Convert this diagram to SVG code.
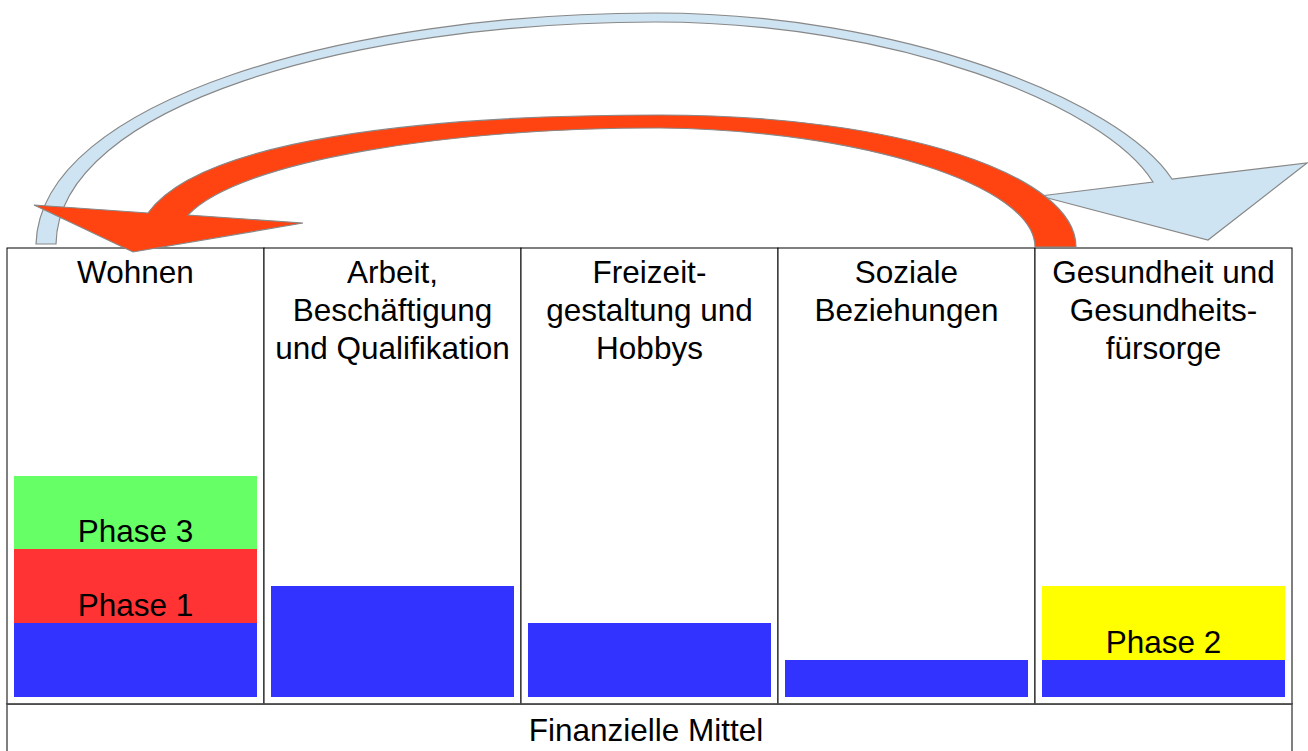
<svg xmlns="http://www.w3.org/2000/svg" width="1308" height="751" viewBox="0 0 1308 751">
<style>
.t{font-family:"Liberation Sans",Arial,sans-serif;font-size:31.5px;fill:#000;text-anchor:middle}
.cell{fill:#fff;stroke:#000;stroke-width:1}
.blue{fill:#3333ff}
.arrowB{fill:#cfe4f3;stroke:#888;stroke-width:1.2;stroke-linejoin:miter}
.arrowR{fill:#ff4411;stroke:#888;stroke-width:1.2;stroke-linejoin:miter}
</style>
<rect width="1308" height="751" fill="#fff"/>
<g id="table">
<rect x="7" y="704" width="1285" height="60" fill="#fff" stroke="#555" stroke-width="1.5"/>
</g>
<g id="wohnen">
<rect class="cell" x="7" y="248" width="257" height="456"/>
<rect x="14" y="476" width="243" height="73" fill="#66ff66"/>
<rect x="14" y="549" width="243" height="74" fill="#ff3333"/>
<rect class="blue" x="14" y="623" width="243" height="74"/>
<text class="t" x="135.5" y="283">Wohnen</text>
<text class="t" x="135.5" y="542">Phase 3</text>
<text class="t" x="135.5" y="616">Phase 1</text>
</g>
<g id="arbeit">
<rect class="cell" x="264" y="248" width="257" height="456"/>
<rect class="blue" x="271" y="586" width="243" height="111"/>
<text class="t" x="392.5" y="283">Arbeit,</text>
<text class="t" x="392.5" y="321">Beschäftigung</text>
<text class="t" x="392.5" y="359">und Qualifikation</text>
</g>
<g id="freizeit">
<rect class="cell" x="521" y="248" width="257" height="456"/>
<rect class="blue" x="528" y="623" width="243" height="74"/>
<text class="t" x="649.5" y="283">Freizeit-</text>
<text class="t" x="649.5" y="321">gestaltung und</text>
<text class="t" x="649.5" y="359">Hobbys</text>
</g>
<g id="soziale">
<rect class="cell" x="778" y="248" width="257" height="456"/>
<rect class="blue" x="785" y="660" width="243" height="37"/>
<text class="t" x="906.5" y="283">Soziale</text>
<text class="t" x="906.5" y="321">Beziehungen</text>
</g>
<g id="gesundheit">
<rect class="cell" x="1035" y="248" width="257" height="456"/>
<rect x="1042" y="586" width="243" height="74" fill="#ffff00"/>
<rect class="blue" x="1042" y="660" width="243" height="37"/>
<text class="t" x="1163.5" y="283">Gesundheit und</text>
<text class="t" x="1163.5" y="321">Gesundheits-</text>
<text class="t" x="1163.5" y="359">fürsorge</text>
<text class="t" x="1163.5" y="653">Phase 2</text>
</g>
<g id="finanzen">
<line x1="7" y1="704" x2="1292" y2="704" stroke="#555" stroke-width="1.5"/>
<text class="t" x="646" y="741">Finanzielle Mittel</text>
</g>
<g id="connectors">
<path class="arrowB" d="M36,244 C40,100 350,13 655,13 C900,13 1120,100 1172,179 L1307,163 L1208,240 L1040,196 L1153,182 C1105,105 895,22 655,22 C355,22 58,105 56,244 Z"/>
<path class="arrowR" d="M1076,247 C1076,175 900,115 660,115 C420,115 200,140 148,213 L34,205 L133,252 L303,223 L188,215 C240,160 450,128 660,128 C860,130 1035,185 1035,247 Z"/>
</g>
</svg>
